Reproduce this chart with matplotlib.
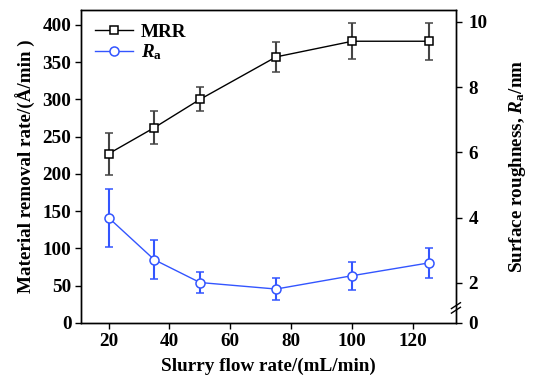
import matplotlib
matplotlib.use("Agg")
from matplotlib import pyplot as plt
from matplotlib.lines import Line2D

# data
flow_rate = [20, 35, 50, 75, 100, 125]
mrr = [227, 262, 300, 357, 378, 378]
mrr_err = [28, 22, 16, 20, 24, 25]
ra = [4.00, 2.71, 2.01, 1.81, 2.22, 2.61]
ra_err = [0.89, 0.60, 0.31, 0.33, 0.43, 0.47]

left_ticks = [0, 50, 100, 150, 200, 250, 300, 350, 400]
right_ticks = [2, 4, 6, 8, 10]
x_ticks = [20, 40, 60, 80, 100, 120]

plt.rcParams['font.family'] = 'Liberation Serif'
plt.rcParams['font.weight'] = 'bold'
plt.rcParams['mathtext.fontset'] = 'custom'
plt.rcParams['mathtext.rm'] = 'Liberation Serif:bold'
plt.rcParams['mathtext.it'] = 'Liberation Serif:italic:bold'
plt.rcParams['mathtext.bf'] = 'Liberation Serif:bold'

blue = '#3355ff'
fs = 13.8

fig = plt.figure(figsize=(5.48, 3.82), dpi=100)
ax = fig.add_axes([0.148, 0.1545, 0.684, 0.8195])
ax2 = ax.twinx()

ax.errorbar(flow_rate, mrr, yerr=mrr_err, color='black', ecolor='#444444',
            elinewidth=1.5, capsize=3, capthick=1.2, lw=1.0,
            marker='s', ms=5.5, mfc='white', mec='black', mew=1.1)
ax2.errorbar(flow_rate, ra, yerr=ra_err, color=blue, ecolor=blue,
             elinewidth=1.5, capsize=3, capthick=1.2, lw=1.0,
             marker='o', ms=6.5, mfc='white', mec=blue, mew=1.1)

ax.set_xlim(11, 134)
ax.set_ylim(0, 420)
ax.set_xticks(x_ticks)
ax.set_yticks(left_ticks)

# right axis: linear from 2 to 10, with a broken segment down to 0
r_bottom = 2 - 40 / 32.5
r_top = 10 + 12 / 32.5
ax2.set_ylim(r_bottom, r_top)
ax2.set_yticks([r_bottom] + right_ticks)
ax2.set_yticklabels(['0'] + [str(t) for t in right_ticks])

for a in (ax, ax2):
    a.tick_params(direction='out', length=4, width=1.0, labelsize=fs, pad=3)
    for s in a.spines.values():
        s.set_linewidth(1.0)
ax2.tick_params(pad=5)

ax.set_xlabel('Slurry flow rate/(mL/min)', fontsize=fs, fontweight='bold', labelpad=6)
ax.set_ylabel('Material removal rate/(Å/min )', fontsize=fs, fontweight='bold', labelpad=5)
ax2.set_ylabel(r'Surface roughness, $R_{\mathrm{a}}$/nm', fontsize=fs, fontweight='bold', labelpad=14)

# break marks on the right spine
yb = r_bottom + 15 / 32.5
d = 0.012
trans = ax2.get_yaxis_transform()
ax2.plot([1 - d, 1 + d], [yb - 0.16, yb + 0.02], transform=trans, color='black', lw=1.0, clip_on=False)
ax2.plot([1 - d, 1 + d], [yb - 0.02, yb + 0.16], transform=trans, color='black', lw=1.0, clip_on=False)

h1 = Line2D([], [], color='black', lw=1.0, marker='s', ms=5.5, mfc='white', mec='black', mew=1.1)
h2 = Line2D([], [], color=blue, lw=1.0, marker='o', ms=6.5, mfc='white', mec=blue, mew=1.1)
ax.legend([h1, h2], ['MRR', r'$R_{\mathrm{a}}$'], loc='upper left', frameon=False,
          fontsize=fs, handlelength=2.0, handletextpad=0.4, borderaxespad=0.3,
          labelspacing=0.1, bbox_to_anchor=(0.0, 1.0))

fig.savefig('out.png', dpi=100)
